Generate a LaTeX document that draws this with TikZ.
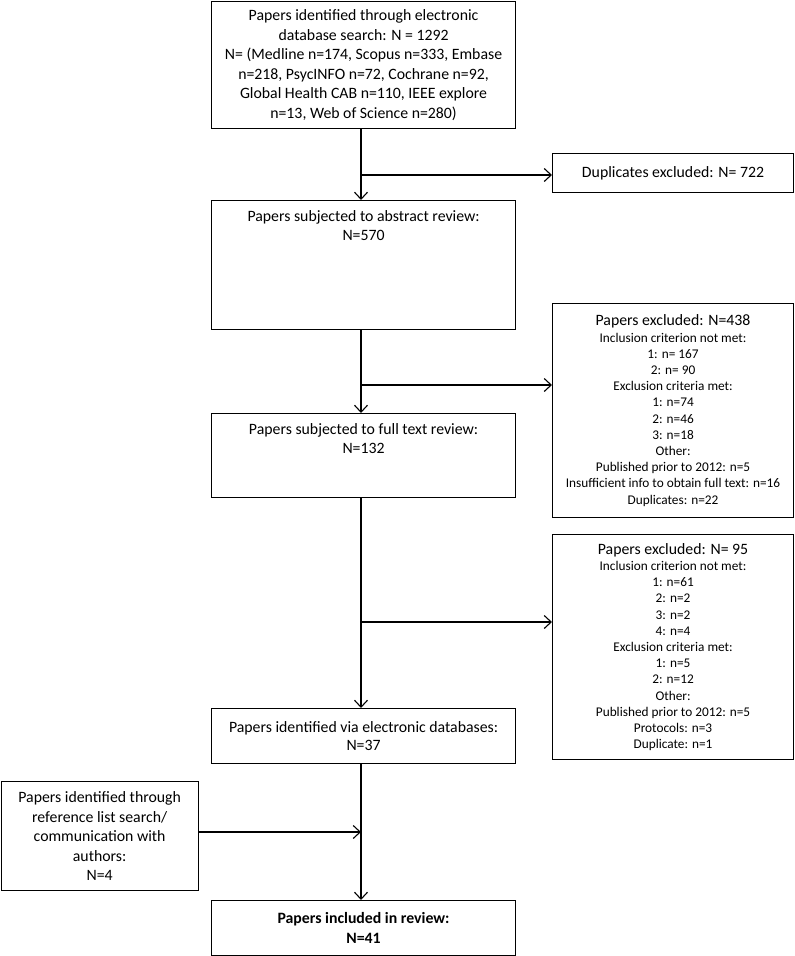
\documentclass[tikz,border=0pt]{standalone}
\usepackage{fontspec}
\setmainfont{Carlito}
\usetikzlibrary{arrows.meta}
\tikzset{
  box/.style={draw, line width=1.1pt, inner sep=0pt, anchor=north west},
  big/.style={font=\fontsize{15.8}{19.5}\selectfont, align=center, inner sep=0pt},
  small/.style={font=\fontsize{13.3}{16.2}\selectfont, align=center, inner sep=0pt},
  arr/.style={line width=1.1pt, -{Straight Barb[length=7pt,width=13pt,line width=1.1pt]}}
}
\newcommand{\bigline}[1]{{\fontsize{15.8}{16.2}\selectfont #1}}
\begin{document}
\begin{tikzpicture}[x=1pt,y=-1pt]
\useasboundingbox (0,0) rectangle (795,956);
% boxes
\node[box, minimum width=304pt, minimum height=127pt] (b1) at (211,1) {};
\node[box, minimum width=241pt, minimum height=39pt] (dup) at (552,153) {};
\node[box, minimum width=304pt, minimum height=129pt] (b2) at (211,200) {};
\node[box, minimum width=241pt, minimum height=214pt] (ex1) at (552,303) {};
\node[box, minimum width=304pt, minimum height=84pt] (b4) at (211,413) {};
\node[box, minimum width=241pt, minimum height=225pt] (ex2) at (552,534) {};
\node[box, minimum width=304pt, minimum height=55pt] (b6) at (211,708) {};
\node[box, minimum width=197pt, minimum height=109pt] (b7) at (0.6,781) {};
\node[box, minimum width=304pt, minimum height=55pt] (b8) at (211,900) {};
% texts
\node[big] (t1) at (b1.center) {Papers identified through electronic\\database search: N = 1292\\N= (Medline n=174, Scopus n=333, Embase\\n=218, PsycINFO n=72, Cochrane n=92,\\Global Health CAB n=110, IEEE explore\\n=13, Web of Science n=280)};
\node[big] (tdup) at (dup.center) {Duplicates excluded: N= 722};
\node[big, anchor=north] (t2) at ([yshift=-10pt]b2.north) {Papers subjected to abstract review:\\N=570};
\node[small] (tex1) at (ex1.center) {\bigline{Papers excluded: N=438}\\Inclusion criterion not met:\\1: n= 167\\2: n= 90\\Exclusion criteria met:\\1: n=74\\2: n=46\\3: n=18\\Other:\\Published prior to 2012: n=5\\Insufficient info to obtain full text: n=16\\Duplicates: n=22};
\node[big, anchor=north] (t4) at ([yshift=-10pt]b4.north) {Papers subjected to full text review:\\N=132};
\node[small] (tex2) at (ex2.center) {\bigline{Papers excluded: N= 95}\\Inclusion criterion not met:\\1: n=61\\2: n=2\\3: n=2\\4: n=4\\Exclusion criteria met:\\1: n=5\\2: n=12\\Other:\\Published prior to 2012: n=5\\Protocols: n=3\\Duplicate: n=1};
\node[big, font=\fontsize{15.8}{18.5}\selectfont] (t6) at (b6.center) {Papers identified via electronic databases:\\N=37};
\node[big] (t7) at (b7.center) {Papers identified through\\reference list search/\\communication with\\authors:\\N=4};
\node[big, font=\fontsize{15.8}{19.5}\selectfont\bfseries] (t8) at (b8.center) {Papers included in review:\\N=41};
% coordinates on the main line
\coordinate (c1) at (361,175);
\coordinate (c2) at (361,385);
\coordinate (c3) at (361,622);
\coordinate (c4) at (361,832);
% connectors
\draw[arr] (b1.south -| c1) -- (b2.north -| c1);
\draw[arr] (b2.south -| c1) -- (b4.north -| c1);
\draw[arr] (b4.south -| c1) -- (b6.north -| c1);
\draw[arr] (b6.south -| c1) -- (b8.north -| c1);
\draw[arr] (c1) -- (c1 -| dup.west);
\draw[arr] (c2) -- (c2 -| ex1.west);
\draw[arr] (c3) -- (c3 -| ex2.west);
\draw[arr] (b7.east |- c4) -- (c4);
\end{tikzpicture}
\end{document}
